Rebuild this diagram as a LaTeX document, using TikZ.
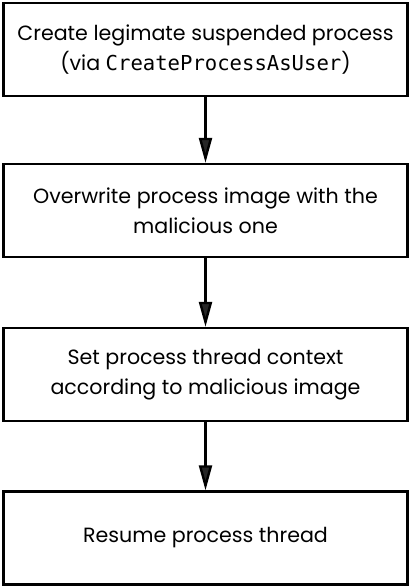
\documentclass[tikz,border=0pt]{standalone}
\usepackage{fontspec}
\setmainfont{Poppins}
\setmonofont{DejaVu Sans Mono}
\usetikzlibrary{arrows.meta}
\tikzset{
    stepbox/.style={draw, line width=2.4pt, minimum width=404pt, minimum height=93pt,
        align=center, font=\fontsize{20.6}{30}\selectfont, inner sep=0pt},
    flow/.style={line width=2.4pt, -{Triangle[length=25pt,width=13pt,fill=black!85]}}
}
\begin{document}
\begin{tikzpicture}
        \useasboundingbox (0,0) rectangle (410pt,-587pt);
        \node [stepbox](create)at(205.5pt,-49.5pt){Create legimate suspended process\\(via \texttt{CreateProcessAsUser})};
        \node [stepbox](overwrite)at(205.5pt,-210.5pt){Overwrite process image with the\\malicious one};
        \node [stepbox](context)at(205.5pt,-374.5pt){Set process thread context\\according to malicious image};
        \node [stepbox](resume)at(205.5pt,-538pt){Resume process thread};

        \draw [flow] (create) -- (overwrite);
        \draw [flow] (overwrite) -- (context);
        \draw [flow] (context) -- (resume);
    \end{tikzpicture}
\end{document}
